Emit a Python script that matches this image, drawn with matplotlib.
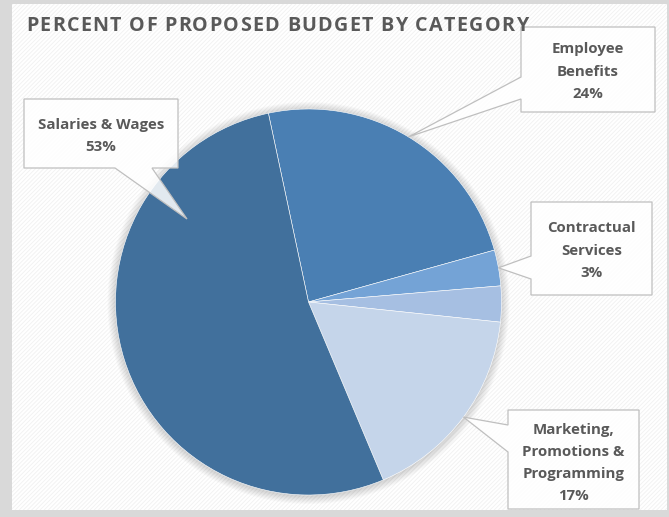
import numpy as np
import matplotlib.pyplot as plt
from matplotlib.patches import Rectangle, Polygon, Circle

# budget shares, clockwise from the top of the pie
categories = ['Employee\nBenefits', 'Contractual\nServices', 'Other',
              'Marketing,\nPromotions &\nProgramming', 'Salaries & Wages']
shares = [24, 3, 3, 17, 53]
colors = ['#4a7fb3', '#74a3d6', '#a6bfe2', '#c5d5ea', '#41709c']
title = 'PERCENT OF PROPOSED BUDGET BY CATEGORY'

W, H = 669, 517
TXT = '#595959'
FONT = 'Open Sans'


def Y(y):
    # image rows -> axes y (origin bottom)
    return H - y


fig = plt.figure(figsize=(6.69, 5.17), dpi=100, facecolor='#d9d9d9')
ax = fig.add_axes([0, 0, 1, 1])
plt.rcParams['hatch.linewidth'] = 0.6

# chart area with faint diagonal texture
ax.add_patch(Rectangle((12, Y(510)), 655, 506, facecolor='white',
                       edgecolor='#f1f1f1', hatch='////////', lw=0, zorder=0))

cx, cy, r = 308.5, 302, 193
# soft glow behind the pie
for i in range(1, 9):
    ax.add_patch(Circle((cx, Y(cy) - 1), r + i, color='black', alpha=0.018, lw=0, zorder=1))

wedges, _ = ax.pie(shares, colors=colors, startangle=102, counterclock=False,
                   center=(cx, Y(cy)), radius=r,
                   wedgeprops=dict(edgecolor='white', linewidth=0.4, zorder=2))
for w in wedges:
    w.set_zorder(2)

ax.set_xlim(0, W)
ax.set_ylim(0, H)
ax.set_aspect('equal')
ax.axis('off')


def edge_point(w):
    mid = np.deg2rad((w.theta1 + w.theta2) / 2)
    return cx + r * np.cos(mid), Y(cy) + r * np.sin(mid)


def callout(box, side, base, tip, text, text_y, fs=10.8):
    x0, y0, x1, y1 = box
    if side == 'left':
        pts = [(x0, y0), (x1, y0), (x1, y1), (x0, y1), (x0, base[1]), tip, (x0, base[0])]
    else:
        pts = [(x0, y0), (x1, y0), (x1, y1), (base[1], y1), tip, (base[0], y1), (x0, y1)]
    pts = [(px, Y(py)) if (px, py) != tip else tip for px, py in pts]
    ax.add_patch(Polygon(pts, closed=True, facecolor='white', alpha=0.85,
                         edgecolor='none', zorder=3))
    ax.add_patch(Polygon(pts, closed=True, facecolor='none',
                         edgecolor='#bfbfbf', lw=0.9, zorder=4))
    for k, line in enumerate(text.split('\n')):
        ax.text((x0 + x1) / 2, Y(text_y[k]), line, ha='center', va='center',
                color=TXT, fontsize=fs, fontweight='bold', family=FONT, zorder=5)


benefit_tip = edge_point(wedges[0])
contract_tip = edge_point(wedges[1])
market_tip = edge_point(wedges[3])
salary_tip = (187, Y(219))

callout((521, 27, 655, 112), 'left', (77, 99), benefit_tip,
        f'{categories[0]}\n{shares[0]}%', [49, 72, 94])
callout((531, 202, 652, 295), 'left', (256, 279), contract_tip,
        f'{categories[1]}\n{shares[1]}%', [228, 251, 273])
callout((508, 410, 639, 509), 'left', (425, 452), market_tip,
        f'{categories[3]}\n{shares[3]}%', [430, 452, 474, 496])
callout((24, 99, 178, 168), 'bottom', (115, 152), salary_tip,
        f'{categories[4]}\n{shares[4]}%', [125, 147])

# title with wide letter spacing, spread from x=26 to x=528
fig.canvas.draw()
renderer = fig.canvas.get_renderer()
chars = []
for ch in title:
    t = ax.text(0, Y(26), ch, ha='left', va='center', color=TXT, fontsize=14.2,
                fontweight='bold', family='Open Sans', zorder=5)
    w = 5.0 if ch == ' ' else t.get_window_extent(renderer).width
    chars.append((t, w))
gap = (528 - 26 - sum(w for _, w in chars)) / (len(chars) - 1)
x = 26
for t, w in chars:
    t.set_x(x)
    x += w + gap

fig.savefig('out.png', dpi=100, facecolor=fig.get_facecolor())
